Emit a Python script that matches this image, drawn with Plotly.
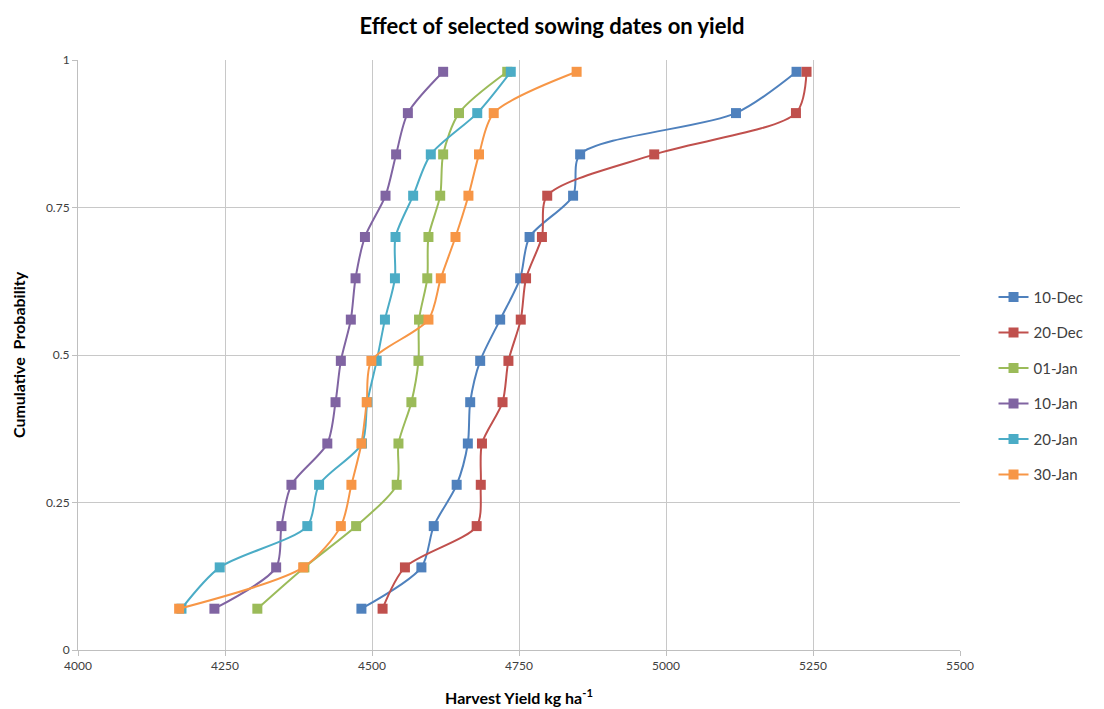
import plotly.graph_objects as go

# Cumulative probability levels (14 ranked seasons)
probability = [0.07, 0.14, 0.21, 0.28, 0.35, 0.42, 0.49,
               0.56, 0.63, 0.70, 0.77, 0.84, 0.91, 0.98]

# Harvest yield (kg/ha) for each sowing date, ordered by probability
yield_10_dec = [4482, 4584, 4605, 4644, 4663, 4667, 4684,
                4718, 4752, 4768, 4842, 4854, 5119, 5222]
yield_20_dec = [4518, 4556, 4678, 4685, 4687, 4722, 4732,
                4753, 4762, 4789, 4798, 4980, 5221, 5239]
yield_01_jan = [4305, 4385, 4473, 4542, 4545, 4567, 4579,
                4580, 4594, 4596, 4616, 4621, 4648, 4730]
yield_10_jan = [4232, 4337, 4346, 4363, 4424, 4438, 4447,
                4464, 4472, 4488, 4523, 4541, 4561, 4621]
yield_20_jan = [4176, 4241, 4390, 4410, 4483, 4492, 4508,
                4522, 4539, 4540, 4570, 4600, 4679, 4736]
yield_30_jan = [4172, 4383, 4447, 4465, 4482, 4491, 4499,
                4596, 4617, 4642, 4664, 4682, 4707, 4848]

series_names = ["10-Dec", "20-Dec", "01-Jan", "10-Jan", "20-Jan", "30-Jan"]
series_values = [yield_10_dec, yield_20_dec, yield_01_jan,
                 yield_10_jan, yield_20_jan, yield_30_jan]
series_colors = ["#4F81BD", "#C0504D", "#9BBB59", "#8064A2", "#4BACC6", "#F79646"]

x_ticks = [4000, 4250, 4500, 4750, 5000, 5250, 5500]
y_ticks = [0, 0.25, 0.5, 0.75, 1]
y_tick_text = ["0", "0.25", "0.5", "0.75", "1"]

fig = go.Figure()
for name, vals, color in zip(series_names, series_values, series_colors):
    fig.add_trace(go.Scatter(
        x=vals, y=probability, name=name, legendgroup=name,
        mode="lines+markers",
        line=dict(color=color, width=2, shape="spline", smoothing=0.8),
        marker=dict(symbol="square", size=10, color=color),
    ))

axis_font = dict(family="Lato, Open Sans, sans-serif", size=12, color="#404040")
fig.update_layout(
    width=1104, height=709,
    paper_bgcolor="white", plot_bgcolor="white",
    margin=dict(l=78, r=144, t=60, b=59),
    title=dict(text="<b>Effect of selected sowing dates on yield</b>",
               x=0.5, xanchor="center", y=0.963, yanchor="middle",
               font=dict(family="Lato, Open Sans, sans-serif", size=22, color="#000000")),
    xaxis=dict(range=[4000, 5500], tickvals=x_ticks, showgrid=True,
               gridcolor="#C8C8C8", gridwidth=1, zeroline=False,
               showline=True, linecolor="#BFBFBF", linewidth=1,
               ticks="outside", ticklen=5, tickcolor="#BFBFBF",
               tickfont=axis_font, automargin=False,
               title=dict(text="<b>Harvest Yield kg ha<sup>-1</sup></b>",
                          font=dict(family="Lato, Open Sans, sans-serif", size=16, color="#000000"),
                          standoff=20)),
    yaxis=dict(range=[0, 1], tickvals=y_ticks, ticktext=y_tick_text, showgrid=True,
               gridcolor="#C8C8C8", gridwidth=1, zeroline=False,
               showline=True, linecolor="#BFBFBF", linewidth=1,
               ticks="outside", ticklen=5, tickcolor="#BFBFBF",
               tickfont=axis_font, automargin=False,
               title=dict(text="<b>Cumulative  Probability</b>",
                          font=dict(family="Lato, Open Sans, sans-serif", size=16, color="#000000"),
                          standoff=16)),
    legend=dict(x=1.038, xanchor="left", y=0.448, yanchor="middle",
                traceorder="grouped", tracegroupgap=13,
                font=dict(family="Lato, Open Sans, sans-serif", size=15, color="#404040"),
                bgcolor="rgba(0,0,0,0)"),
    showlegend=True,
)

fig.write_html("out.html")
